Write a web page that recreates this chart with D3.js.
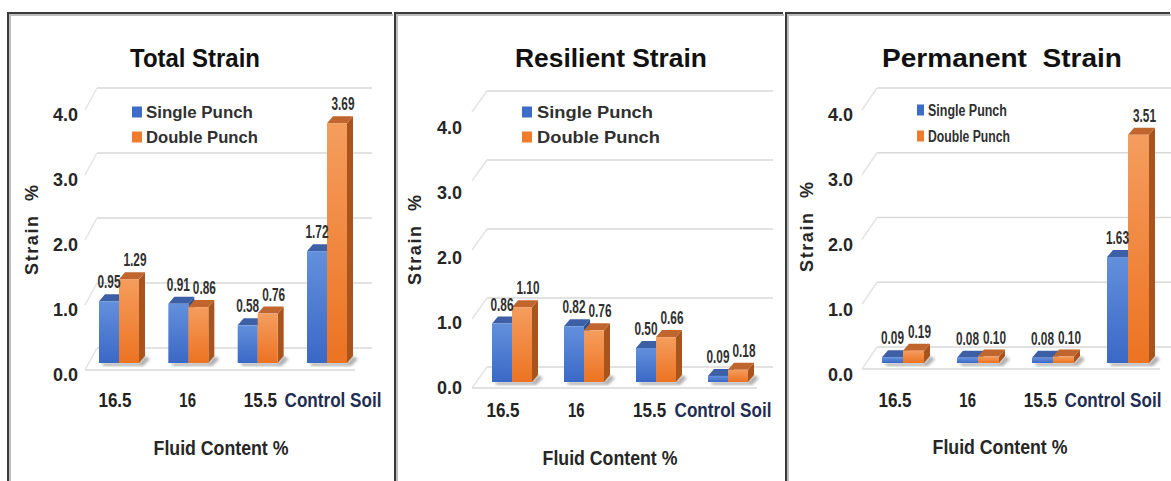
<!DOCTYPE html>
<html>
<head>
<meta charset="utf-8">
<script src="https://cdn.jsdelivr.net/npm/d3@7"></script>
<style>
  body { margin: 0; background: #fff; }
  svg { display: block; }
  text { font-family: "Liberation Sans", Arial, sans-serif; font-weight: bold; }
</style>
</head>
<body>
<svg id="chart" width="1171" height="481"></svg>
<script>
// ---- data ----
const categories = ["16.5", "16", "15.5", "Control Soil"];
const seriesNames = ["Single Punch", "Double Punch"];
const titles = ["Total Strain", "Resilient Strain", "Permanent  Strain"];
const yTicks = [0, 1, 2, 3, 4];
const yTickLabels = ["0.0", "1.0", "2.0", "3.0", "4.0"];
const xAxisTitle = "Fluid Content %";
const yAxisTitle = "Strain  %";

const totalSingle = [0.95, 0.91, 0.58, 1.72];
const totalDouble = [1.29, 0.86, 0.76, 3.69];
const resilientSingle = [0.86, 0.82, 0.50, 0.09];
const resilientDouble = [1.10, 0.76, 0.66, 0.18];
const permanentSingle = [0.09, 0.08, 0.08, 1.63];
const permanentDouble = [0.19, 0.10, 0.10, 3.51];

// ---- layout of the three framed panels ----
const panels = [
  { title: titles[0], values: [totalSingle, totalDouble],
    frameX: 8, frameX2: 393, titleX: 195, titleW: 130,
    cat: [119, 327], labels: [115, 333], barW: 20, bar: [363, 103], grid: [348, 88], ticks: [375, 115],
    gridX: [97, 372], sideX: 85, floorY: 370, floorX2: 355, tickX: 78,
    xLabelY: 407, xTitle: [221, 455], yTitle: [32, 230],
    legend: { x: 132, w: 10, tx: 146, y: [112, 137], tw: [107, 112], size: 16, weight: "bold" } },
  { title: titles[1], values: [resilientSingle, resilientDouble],
    frameX: 395, frameX2: 784, titleX: 611, titleW: 192,
    cat: [512, 728], labels: [503, 723], barW: 20, bar: [382, 110], grid: [367, 91], ticks: [388, 128],
    gridX: [487, 773], sideX: 472, floorY: 388, floorX2: 757, tickX: 462,
    xLabelY: 417, xTitle: [610, 465], yTitle: [415, 240],
    legend: { x: 522, w: 10, tx: 537, y: [112, 137], tw: [116, 123], size: 17, weight: "bold" } },
  { title: titles[2], values: [permanentSingle, permanentDouble],
    frameX: 786, frameX2: 1171, titleX: 1002, titleW: 240,
    cat: [903, 1128], labels: [895, 1113], barW: 21, bar: [363, 103], grid: [347, 88], ticks: [375, 115],
    gridX: [877, 1171], sideX: 862, floorY: 369, floorX2: 1160, tickX: 853,
    xLabelY: 407, xTitle: [1000, 454], yTitle: [807, 227],
    legend: { x: 917, w: 7, tx: 928, y: [110, 136], tw: [79, 82], size: 17, weight: "normal" } }
];

const depth = { dx: 6, dy: 7 };
const palette = {
  front: [["#6390dc", "#3a68c6"], ["#f59d5e", "#ec7322"]],
  top: ["#3d5fa6", "#c0652e"],
  side: ["#2d4f94", "#a9541d"]
};

const svg = d3.select("#chart");
const defs = svg.append("defs");

palette.front.forEach((stops, i) => {
  const g = defs.append("linearGradient").attr("id", "front" + i)
    .attr("x1", 0).attr("y1", 0).attr("x2", 0).attr("y2", 1);
  g.append("stop").attr("offset", "0%").attr("stop-color", stops[0]);
  g.append("stop").attr("offset", "100%").attr("stop-color", stops[1]);
});
defs.append("filter").attr("id", "soft")
  .append("feGaussianBlur").attr("stdDeviation", 1.4);

// Places a text at (x, y) and narrows it horizontally to the given width.
function squeeze(text, x, y, width, anchor, extra) {
  text.attr("x", 0).attr("y", 0).attr("text-anchor", anchor || "start");
  const natural = text.node().getComputedTextLength();
  const s = Math.min(1.15, width / natural);
  text.attr("transform", `translate(${x},${y}) ${extra || ""} scale(${s},1)`);
  return text;
}

panels.forEach(p => {
  const g = svg.append("g");

  // frame: top and left rules with a faint shadow
  g.append("path").attr("d", `M${p.frameX + 2},481V${15}H${p.frameX2}`)
    .attr("fill", "none").attr("stroke", "#bdbdbd").attr("stroke-width", 2);
  g.append("path").attr("d", `M${p.frameX},481V${13}H${p.frameX2 - 1}`)
    .attr("fill", "none").attr("stroke", "#3a3a3a").attr("stroke-width", 2);

  const x = d3.scalePoint().domain(categories).range(p.cat);
  const xLabel = d3.scalePoint().domain(categories).range(p.labels);
  const y = d3.scaleLinear().domain([0, 4]).range(p.bar);
  const yGrid = d3.scaleLinear().domain([0, 4]).range(p.grid);
  const yTick = d3.scaleLinear().domain([0, 4]).range(p.ticks);
  const sideDy = p.floorY - p.grid[0];

  // back-wall gridlines and their side-wall continuation
  const grid = g.append("g").attr("stroke", "#d9d9d9").attr("stroke-width", 1.5).attr("fill", "none");
  yTicks.forEach(t => {
    const yy = yGrid(t);
    grid.append("line").attr("x1", p.gridX[0]).attr("x2", p.gridX[1]).attr("y1", yy).attr("y2", yy);
    grid.append("line").attr("x1", p.sideX).attr("y1", yy + sideDy)
      .attr("x2", p.gridX[0]).attr("y2", yy).attr("stroke", "#e4e4e4");
  });
  grid.append("line").attr("x1", p.sideX).attr("x2", p.floorX2)
    .attr("y1", p.floorY).attr("y2", p.floorY);

  // y tick labels
  g.append("g").selectAll("text").data(yTicks).join("text")
    .attr("x", p.tickX).attr("y", t => yTick(t) + 6)
    .attr("text-anchor", "end").attr("font-size", 18).attr("fill", "#262626")
    .text((t, i) => yTickLabels[i]);

  // bars (single punch left of the category point, double punch right)
  const base = y(0);
  categories.forEach((cat, ci) => {
    const left = x(cat) - p.barW;
    const right = x(cat) + p.barW;
    // floor shadow
    g.append("path")
      .attr("d", `M${left + 2},${base}L${right},${base}L${right + depth.dx},${base - depth.dy}` +
                 `L${right + depth.dx + 5},${base - depth.dy + 3}L${right + 4},${base + 3}L${left + 5},${base + 3}Z`)
      .attr("fill", "#6d6d6d").attr("opacity", 0.55).attr("filter", "url(#soft)");

    p.values.forEach((vals, si) => {
      const v = vals[ci];
      const x0 = left + si * p.barW;
      const x1 = x0 + p.barW;
      const yt = y(v);
      // side face
      g.append("path")
        .attr("d", `M${x1},${yt}L${x1 + depth.dx},${yt - depth.dy}L${x1 + depth.dx},${base - depth.dy}L${x1},${base}Z`)
        .attr("fill", palette.side[si]);
      // top face
      g.append("path")
        .attr("d", `M${x0},${yt}L${x0 + depth.dx},${yt - depth.dy}L${x1 + depth.dx},${yt - depth.dy}L${x1},${yt}Z`)
        .attr("fill", palette.top[si]);
      // front face
      g.append("rect").attr("x", x0).attr("y", yt)
        .attr("width", p.barW).attr("height", base - yt)
        .attr("fill", `url(#front${si})`);
    });

    // value labels
    p.values.forEach((vals, si) => {
      const v = vals[ci];
      const cx = left + si * p.barW + p.barW / 2 + depth.dx / 2 + (si === 0 ? -3 : 3);
      const t = g.append("text")
        .attr("font-size", 18).attr("fill", "#303030")
        .text(v.toFixed(2));
      squeeze(t, cx, y(v) - depth.dy - 6, 23, "middle");
    });
  });

  // category labels
  categories.forEach((cat, i) => {
    const t = g.append("text").attr("font-size", 21)
      .attr("fill", i === categories.length - 1 ? "#1f2d52" : "#222")
      .text(cat);
    squeeze(t, xLabel(cat), p.xLabelY, cat.length > 4 ? 97 : cat.length * 8.3, "middle");
  });

  // axis titles
  squeeze(g.append("text").attr("font-size", 20).attr("fill", "#262626").text(xAxisTitle),
    p.xTitle[0], p.xTitle[1], 135, "middle");
  g.append("text")
    .attr("transform", `translate(${p.yTitle[0]},${p.yTitle[1]}) rotate(-90)`)
    .attr("text-anchor", "middle").attr("dy", "0.35em")
    .attr("font-size", 18).attr("fill", "#262626")
    .attr("textLength", 90).attr("lengthAdjust", "spacing")
    .attr("xml:space", "preserve")
    .text(yAxisTitle);

  // chart title
  squeeze(g.append("text").attr("font-size", 26).attr("fill", "#111")
      .attr("xml:space", "preserve").text(p.title),
    p.titleX, 67, p.titleW, "middle");

  // legend
  const L = p.legend;
  seriesNames.forEach((name, si) => {
    g.append("rect").attr("x", L.x).attr("y", L.y[si] - 5.5)
      .attr("width", L.w).attr("height", 11)
      .attr("fill", si === 0 ? "#3e6cc9" : "#ef7b2c");
    squeeze(g.append("text").attr("font-size", L.size).attr("font-weight", L.weight)
        .attr("fill", "#303030").text(name),
      L.tx, L.y[si] + 6, L.tw[si], "start");
  });
});
</script>
</body>
</html>
